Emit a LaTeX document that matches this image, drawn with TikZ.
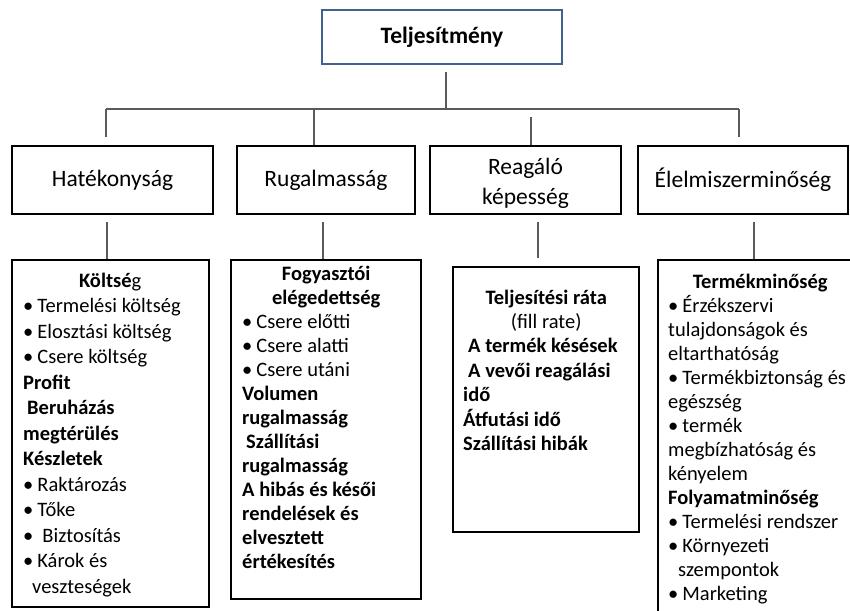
\documentclass[tikz,border=0pt]{standalone}
\usepackage{fontspec}
\setmainfont{Carlito}
\usetikzlibrary{positioning}
\definecolor{topblue}{HTML}{41628F}
\definecolor{linegray}{HTML}{5A5A5A}
\tikzstyle{block}=[draw,fill=white,rectangle,line width=2pt,inner sep=0pt,align=center,font=\fontsize{23.5}{30}\selectfont]
\tikzstyle{topblock}=[block,draw=topblue,line width=2.4pt,font=\fontsize{23.5}{29.5}\selectfont\bfseries]
\tikzstyle{listbox}=[draw,rectangle,line width=2pt,inner sep=0pt]
\tikzstyle{list}=[inner sep=0pt,anchor=base west,align=flush left,font=\fontsize{20.5}{24}\selectfont]
\tikzstyle{link}=[draw=linegray,line width=1.2pt]
\newcommand{\bitem}{•\hspace{4pt}}

\begin{document}
\begin{tikzpicture}[x=1pt,y=-1pt]
    \fill[white] (0,0) rectangle (850,610);
    \useasboundingbox (0,0) rectangle (850,610);
    % top and second level
    \node[topblock, minimum width=240pt, minimum height=54pt] (top) at (442,37) {Teljesítmény};
    \node[block, minimum width=201pt, minimum height=68pt] (hat) at (112.5,180) {Hatékonyság};
    \node[block, minimum width=178pt, minimum height=68pt] (rug) at (326,180) {Rugalmasság};
    \node[block, minimum width=191pt, minimum height=68pt] (rea) at (525.5,180) {};
    \node[font=\fontsize{23.5}{30}\selectfont, align=center] (reatxt) at (525.5,183) {Reagáló\\képesség};
    \node[block, minimum width=210pt, minimum height=68pt] (ele) at (743,180) {Élelmiszerminőség};
    % indicator boxes
    \node[listbox, minimum width=197pt, minimum height=347pt] (cost) at (110.5,433.5) {};
    \node[listbox, minimum width=190pt, minimum height=339pt] (flex) at (326,429.5) {};
    \node[listbox, minimum width=186pt, minimum height=265pt] (resp) at (546,399.5) {};
    \node[listbox, minimum width=198pt, minimum height=360pt] (qual) at (757,440) {};
    \node[list, text width=174pt, font=\fontsize{20.5}{25.5}\selectfont] (costtxt) at (23,287) {%
        {\centering\textbf{Költsé}g\par}
        \bitem Termelési költség\\
        \bitem Elosztási költség\\
        \bitem Csere költség\\
        \textbf{Profit}\\
        \hspace*{4pt}\textbf{Beruházás}\\
        \textbf{megtérülés}\\
        \textbf{Készletek}\\
        \bitem Raktározás\\
        \bitem Tőke\\
        \bitem\hspace{5pt}Biztosítás\\
        \bitem Károk és\\
        \hspace*{9pt}veszteségek};
    \node[list, text width=168pt] (flextxt) at (242,280) {%
        {\centering\textbf{Fogyasztói}\\\textbf{elégedettség}\par}
        \bitem Csere előtti\\
        \bitem Csere alatti\\
        \bitem Csere utáni\\
        \textbf{Volumen}\\
        \textbf{rugalmasság}\\
        \hspace*{4pt}\textbf{Szállítási}\\
        \textbf{rugalmasság}\\
        \textbf{A hibás és késői}\\
        \textbf{rendelések és}\\
        \textbf{elvesztett}\\
        \textbf{értékesítés}};
    \node[list, text width=166pt, font=\fontsize{20.5}{24.4}\selectfont] (resptxt) at (463,304) {%
        {\centering\textbf{Teljesítési ráta}\\(fill rate)\par}
        \hspace*{5pt}\textbf{A termék késések}\\
        \hspace*{5pt}\textbf{A vevői reagálási}\\
        \textbf{idő}\\
        \textbf{Átfutási idő}\\
        \textbf{Szállítási hibák}};
    \node[list, text width=184pt] (qualtxt) at (668,288) {%
        {\centering\textbf{Termékminőség}\par}
        \bitem Érzékszervi\\
        tulajdonságok és\\
        eltarthatóság\\
        \bitem Termékbiztonság és\\
        egészség\\
        \bitem termék\\
        megbízhatóság és\\
        kényelem\\
        \textbf{Folyamatminőség}\\
        \bitem Termelési rendszer\\
        \bitem Környezeti\\
        \hspace*{10pt}szempontok\\
        \bitem Marketing};
    % connectors
    \coordinate (bus) at (446,109);
    \coordinate (busL) at (106,109);
    \coordinate (busR) at (739,109);
    \coordinate (d2) at (314,109);
    \coordinate (d3) at (531,117);
    \coordinate (l1) at (107,222);
    \coordinate (l2) at (323,222);
    \coordinate (l3) at (538,222);
    \coordinate (l4) at (754,222);
    \draw[link] ([yshift=-7pt]bus |- top.south) -- (bus);
    \draw[link] (busL) -- (busR);
    \draw[link] (busL) -- ([yshift=8pt]busL |- hat.north);
    \draw[link] (d2) -- (d2 |- rug.north);
    \draw[link] (d3) -- (d3 |- rea.north);
    \draw[link] (busR) -- ([yshift=8pt]busR |- ele.north);
    \draw[link] (l1) -- (l1 |- cost.north);
    \draw[link] (l2) -- (l2 |- flex.north);
    \draw[link] (l3) -- ([yshift=8pt]l3 |- resp.north);
    \draw[link] (l4) -- (l4 |- qual.north);
\end{tikzpicture}
\end{document}
